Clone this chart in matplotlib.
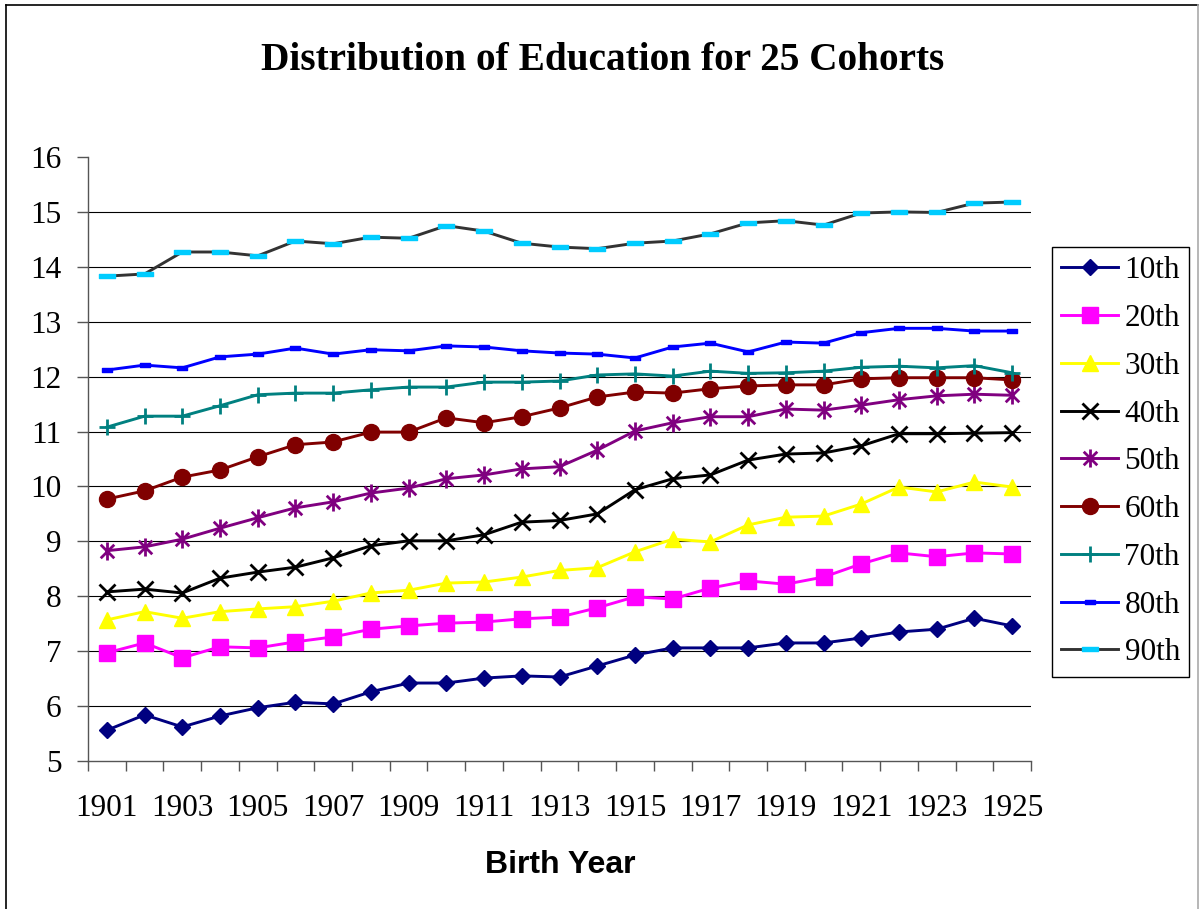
import matplotlib
matplotlib.use("Agg")
import matplotlib.pyplot as plt
from matplotlib.path import Path
from matplotlib.lines import Line2D

anos = list(range(1901, 1926))

p10 = [5.56, 5.84, 5.62, 5.82, 5.97, 6.07, 6.04, 6.26, 6.42, 6.42, 6.51, 6.55, 6.53,
       6.73, 6.93, 7.06, 7.06, 7.06, 7.15, 7.15, 7.24, 7.35, 7.40, 7.60, 7.46]
p20 = [6.97, 7.15, 6.88, 7.08, 7.06, 7.17, 7.26, 7.40, 7.46, 7.51, 7.53, 7.59, 7.62,
       7.79, 7.99, 7.95, 8.15, 8.28, 8.22, 8.35, 8.59, 8.79, 8.72, 8.79, 8.77]
p30 = [7.57, 7.72, 7.60, 7.72, 7.77, 7.81, 7.91, 8.06, 8.11, 8.24, 8.26, 8.35, 8.47,
       8.52, 8.81, 9.04, 8.99, 9.30, 9.44, 9.46, 9.68, 9.99, 9.90, 10.08, 9.99]
p40 = [8.08, 8.13, 8.06, 8.33, 8.44, 8.53, 8.70, 8.92, 9.01, 9.01, 9.12, 9.35, 9.38,
       9.50, 9.94, 10.14, 10.21, 10.48, 10.59, 10.61, 10.74, 10.96, 10.96, 10.97, 10.98]
p50 = [8.83, 8.90, 9.04, 9.24, 9.43, 9.61, 9.72, 9.88, 9.97, 10.14, 10.21, 10.32, 10.36,
       10.66, 11.01, 11.16, 11.27, 11.27, 11.41, 11.39, 11.48, 11.58, 11.65, 11.68, 11.66]
p60 = [9.77, 9.92, 10.17, 10.30, 10.54, 10.76, 10.81, 10.99, 10.99, 11.25, 11.16, 11.27, 11.43,
       11.63, 11.72, 11.70, 11.78, 11.83, 11.85, 11.85, 11.96, 11.98, 11.98, 11.98, 11.94]
p70 = [11.08, 11.28, 11.28, 11.47, 11.67, 11.70, 11.70, 11.76, 11.81, 11.81, 11.90, 11.90, 11.92,
       12.03, 12.05, 12.01, 12.10, 12.06, 12.07, 12.10, 12.17, 12.19, 12.16, 12.20, 12.07]
p80 = [12.12, 12.21, 12.16, 12.36, 12.41, 12.52, 12.41, 12.49, 12.47, 12.56, 12.54, 12.47, 12.43,
       12.41, 12.34, 12.54, 12.61, 12.45, 12.63, 12.61, 12.80, 12.88, 12.88, 12.83, 12.83]
p90 = [13.83, 13.87, 14.27, 14.27, 14.20, 14.47, 14.42, 14.54, 14.52, 14.75, 14.65, 14.43, 14.36,
       14.33, 14.43, 14.47, 14.60, 14.80, 14.84, 14.76, 14.98, 15.00, 14.99, 15.16, 15.18]

rotulos = ["10th", "20th", "30th", "40th", "50th", "60th", "70th", "80th", "90th"]

# marcadores no estilo do Excel
asterisco = Path([(0, -1), (0, 1), (-0.75, -0.75), (0.75, 0.75), (-0.75, 0.75), (0.75, -0.75)],
                 [Path.MOVETO, Path.LINETO] * 3)
traco_longo = Path([(-1, -0.3), (1, -0.3), (1, 0.3), (-1, 0.3), (-1, -0.3)],
                   [Path.MOVETO, Path.LINETO, Path.LINETO, Path.LINETO, Path.CLOSEPOLY])
traco_curto = Path([(-1, -0.55), (1, -0.55), (1, 0.55), (-1, 0.55), (-1, -0.55)],
                   [Path.MOVETO, Path.LINETO, Path.LINETO, Path.LINETO, Path.CLOSEPOLY])

serie = [
    (p10, dict(color="#000080", marker="D", ms=8.2)),
    (p20, dict(color="#FF00FF", marker="s", ms=11)),
    (p30, dict(color="#FFFF00", marker="^", ms=11.5)),
    (p40, dict(color="#000000", marker="x", ms=11, mew=2.0)),
    (p50, dict(color="#800080", marker=asterisco, ms=13, mew=2.0, mfc="none")),
    (p60, dict(color="#800000", marker="o", ms=11.5)),
    (p70, dict(color="#008080", marker="+", ms=12, mew=2.0)),
    (p80, dict(color="#0000FF", marker=traco_curto, ms=6.5)),
    (p90, dict(color="#333333", marker=traco_longo, ms=11.5, mfc="#00CCFF", mec="#00CCFF")),
]

serif = "Liberation Serif"
tam = 22.5

fig = plt.figure(figsize=(11.99, 9.09), dpi=100)
ax = fig.add_axes([88 / 1199, 1 - 761 / 909, (1031 - 88) / 1199, (761 - 157) / 909])

for (valores, estilo), nome in zip(serie, rotulos):
    ax.plot(anos, valores, lw=2.1, label=nome, zorder=3, **estilo)

ax.set_xlim(1900.5, 1925.5)
ax.set_ylim(5, 16)
ax.set_yticks(range(5, 17))
for v in range(6, 16):
    ax.axhline(v, color="#000000", lw=0.8, zorder=1)

ax.set_xticks([1900.5 + k for k in range(26)])
ax.set_xticklabels([])
ax.set_xticks(anos[::2], minor=True)
ax.set_xticklabels([str(a) for a in anos[::2]], minor=True, fontfamily=serif, fontsize=tam)
ax.tick_params(axis="x", which="major", direction="out", length=7.5, width=1, color="#555555")
ax.tick_params(axis="x", which="minor", length=0, pad=24)
ax.tick_params(axis="y", direction="out", length=8, width=1, color="#555555", pad=11)
for t in ax.get_yticklabels():
    t.set_fontfamily(serif)
    t.set_fontsize(tam)

for lado in ["top", "right"]:
    ax.spines[lado].set_visible(False)
ax.spines["left"].set_color("#555555")
ax.spines["bottom"].set_color("#555555")
ax.spines["left"].set_linewidth(1)
ax.spines["bottom"].set_linewidth(1)

fig.text(0.503, 1 - 70 / 909, "Distribution of Education for 25 Cohorts", ha="center",
         va="baseline", fontfamily=serif, fontweight="bold", fontsize=28.3)
fig.text(560 / 1199, 1 - 873 / 909, "Birth Year", ha="center", va="baseline",
         fontfamily="Liberation Sans", fontweight="bold", fontsize=23)

leg = ax.legend(loc="upper left", bbox_to_anchor=(1052 / 1199, 1 - 247 / 909),
                bbox_transform=fig.transFigure, prop={"family": serif, "size": tam},
                frameon=True, fancybox=False, edgecolor="#000000", framealpha=1,
                labelspacing=0.6, borderpad=0.3, handlelength=1.8, handletextpad=0.22,
                borderaxespad=0)
leg.get_frame().set_linewidth(1)

# moldura da figura
fig.add_artist(Line2D([6 / 1199, 6 / 1199], [0, 1 - 5 / 909], color="black", lw=1.2))
fig.add_artist(Line2D([6 / 1199, 1197.5 / 1199], [1 - 5 / 909, 1 - 5 / 909], color="black", lw=1.2))
fig.add_artist(Line2D([1197.5 / 1199, 1197.5 / 1199], [0, 1 - 5 / 909], color="#aaaaaa", lw=1.2))

fig.savefig("out.png", dpi=100)
